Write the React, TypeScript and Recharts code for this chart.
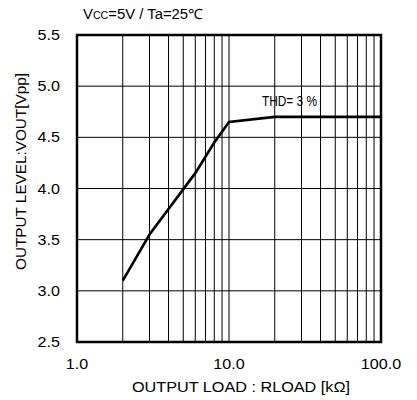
import React from "react";
import {
  LineChart,
  Line,
  XAxis,
  YAxis,
  ReferenceLine,
  ReferenceArea,
  ReferenceDot,
  Label,
} from "recharts";

const loadK = [2, 3, 6, 8, 10, 20, 100];
const voutPP = [3.1, 3.55, 4.15, 4.45, 4.65, 4.7, 4.7];
const xTicks = [1, 10, 100];
const yTicks = [2.5, 3.0, 3.5, 4.0, 4.5, 5.0, 5.5];
const xMinorGrid = [2, 3, 4, 5, 6, 7, 8, 9, 10, 20, 30, 40, 50, 60, 70, 80, 90];
const yGrid = [3.0, 3.5, 4.0, 4.5, 5.0];
const annotation = { x: 25, y: 4.86, text: "THD= 3 %" };
const xTitle = "OUTPUT LOAD : RLOAD [kΩ]";
const yTitle = "OUTPUT LEVEL:VOUT[Vpp]";

const data = loadK.map((x, i) => ({ x, y: voutPP[i] }));

const FONT = "'Liberation Sans', Arial, sans-serif";
const SX = 1.15;

const YTick = (props: any) => {
  const { x, y, payload } = props;
  return (
    <text
      transform={`translate(${x},${y}) scale(${SX},1)`}
      textAnchor="end"
      dy="0.36em"
      fontFamily={FONT}
      fontSize={14}
      fill="#000"
    >
      {Number(payload.value).toFixed(1)}
    </text>
  );
};

const XTick = (props: any) => {
  const { x, y, payload } = props;
  return (
    <text
      transform={`translate(${x},${y}) scale(${SX},1)`}
      textAnchor="middle"
      dy="0.71em"
      fontFamily={FONT}
      fontSize={14}
      fill="#000"
    >
      {Number(payload.value).toFixed(1)}
    </text>
  );
};

export default function App() {
  return (
    <div style={{ position: "absolute", left: 0, top: 0, width: 417, height: 400, background: "#fff" }}>
      <svg width={417} height={40} style={{ position: "absolute", left: 0, top: 0 }}>
        <text
          x={83}
          y={19}
          fontFamily={FONT}
          fontSize={14}
          fill="#000"
          textLength={120}
          lengthAdjust="spacingAndGlyphs"
        >
          V<tspan fontSize={10}>CC</tspan>=5V / Ta=25℃
        </text>
      </svg>
      <LineChart
        width={417}
        height={400}
        data={data}
        margin={{ top: 35, right: 36, left: 17, bottom: 28 }}
        style={{ position: "absolute", left: 0, top: 0 }}
      >
        {xMinorGrid.map((v) => (
          <ReferenceLine key={"vx" + v} x={v} stroke="#000" strokeWidth={1} />
        ))}
        {yGrid.map((v) => (
          <ReferenceLine key={"hy" + v} y={v} stroke="#000" strokeWidth={1} />
        ))}
        <XAxis
          dataKey="x"
          type="number"
          scale="log"
          domain={[1, 100]}
          ticks={xTicks}
          allowDataOverflow
          axisLine={false}
          tickLine={false}
          tickSize={0}
          tickMargin={17}
          height={30}
          tick={<XTick />}
        >
          <Label
            content={() => (
              <text
                x={241}
                y={392}
                textAnchor="middle"
                fontFamily={FONT}
                fontSize={14}
                fill="#000"
                textLength={218}
                lengthAdjust="spacingAndGlyphs"
              >
                {xTitle}
              </text>
            )}
          />
        </XAxis>
        <YAxis
          type="number"
          domain={[2.5, 5.5]}
          ticks={yTicks}
          allowDataOverflow
          axisLine={false}
          tickLine={false}
          tickSize={0}
          tickMargin={17}
          width={60}
          tick={<YTick />}
        >
          <Label
            content={() => (
              <text
                x={0}
                y={0}
                transform="translate(26 171.5) rotate(-90)"
                textAnchor="middle"
                fontFamily={FONT}
                fontSize={15}
                fill="#000"
                textLength={197}
                lengthAdjust="spacingAndGlyphs"
              >
                {yTitle}
              </text>
            )}
          />
        </YAxis>
        <ReferenceArea
          x1={1}
          x2={100}
          y1={2.5}
          y2={5.5}
          fill="none"
          fillOpacity={0}
          stroke="#000"
          strokeWidth={2.5}
          ifOverflow="visible"
        />
        <Line
          dataKey="y"
          type="linear"
          stroke="#000"
          strokeWidth={2.6}
          dot={false}
          isAnimationActive={false}
        />
        <ReferenceDot
          x={annotation.x}
          y={annotation.y}
          r={0}
          fill="none"
          stroke="none"
          ifOverflow="visible"
          label={(p: any) => {
            const vb = p.viewBox || {};
            const cx = (vb.x ?? 0) + (vb.width ?? 0) / 2;
            const cy = (vb.y ?? 0) + (vb.height ?? 0) / 2;
            return (
              <text
                x={cx}
                y={cy}
                dy="0.36em"
                textAnchor="middle"
                fontFamily={FONT}
                fontSize={15}
                fill="#000"
                textLength={55}
                lengthAdjust="spacingAndGlyphs"
              >
                {annotation.text}
              </text>
            );
          }}
        />
      </LineChart>
    </div>
  );
}
